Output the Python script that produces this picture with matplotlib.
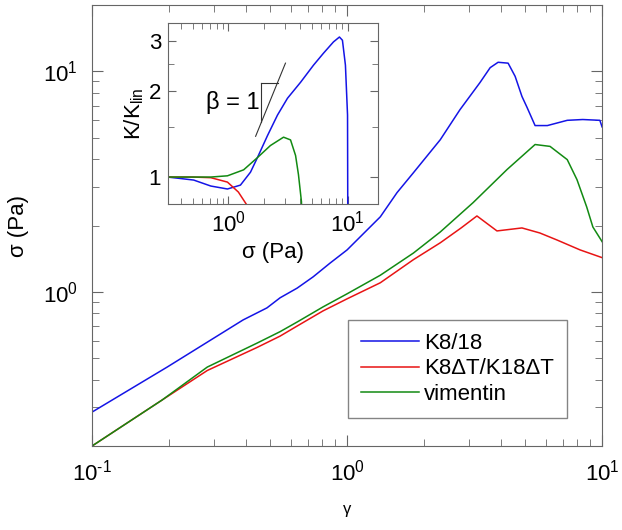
import matplotlib
matplotlib.use('Agg')
import matplotlib.pyplot as plt
import matplotlib.ticker as mticker
import numpy as np

plt.rcParams['font.family'] = ['Liberation Sans', 'DejaVu Sans']
plt.rcParams['mathtext.fontset'] = 'custom'
plt.rcParams['mathtext.rm'] = 'Liberation Sans'
plt.rcParams['mathtext.it'] = 'Liberation Sans:italic'

# main panel: stress vs strain
g_blue = [0.1, 0.197, 0.391, 0.485, 0.546, 0.637, 0.736, 0.857, 1.0, 1.35, 1.57, 1.82, 2.32, 2.77, 3.32,
          3.64, 3.91, 4.28, 4.56, 4.85, 5.08, 5.46, 6.1, 7.3, 8.4, 9.8, 10.0]
s_blue = [0.285, 0.456, 0.746, 0.846, 0.94, 1.04, 1.17, 1.35, 1.55, 2.19, 2.82, 3.47, 4.9, 6.7, 8.9,
          10.4, 11.0, 10.9, 9.5, 7.7, 6.86, 5.68, 5.68, 6.0, 6.05, 6.0, 5.6]

g_red = [0.1, 0.188, 0.283, 0.444, 0.546, 0.637, 0.805, 1.0, 1.35, 1.82, 2.32, 2.8, 3.23, 3.87, 4.85,
         5.7, 6.65, 8.2, 10.0]
s_red = [0.2, 0.323, 0.44, 0.56, 0.63, 0.7, 0.82, 0.93, 1.1, 1.4, 1.67, 1.95, 2.21, 1.89, 1.95,
         1.85, 1.72, 1.55, 1.43]

g_green = [0.1, 0.188, 0.283, 0.444, 0.546, 0.637, 0.805, 1.0, 1.35, 1.82, 2.32, 3.12, 4.24, 5.46, 6.25,
           7.3, 7.97, 8.7, 9.2, 10.0]
s_green = [0.2, 0.323, 0.456, 0.586, 0.66, 0.73, 0.855, 0.98, 1.19, 1.5, 1.87, 2.54, 3.59, 4.66, 4.57,
           3.98, 3.23, 2.43, 1.97, 1.69]

# inset: K/Klin vs stress
i_blue_x = [0.31, 0.51, 0.71, 0.98, 1.26, 1.53, 1.75, 2.13, 2.58, 3.13, 4.03, 5.18, 6.28, 7.62, 8.55,
            9.06, 9.6, 10.0, 10.05]
i_blue_y = [1.0, 0.976, 0.93, 0.908, 0.937, 1.04, 1.17, 1.40, 1.65, 1.89, 2.15, 2.47, 2.72, 2.98, 3.10,
            3.02, 2.47, 1.65, 0.7]
i_red_x = [0.31, 0.5, 0.71, 0.98, 1.21, 1.42, 1.5]
i_red_y = [1.0, 1.0, 0.995, 0.96, 0.886, 0.8, 0.76]
i_green_x = [0.31, 0.5, 0.71, 0.98, 1.34, 1.75, 2.25, 2.9, 3.32, 3.66, 3.87, 4.1, 4.15]
i_green_y = [1.0, 1.0, 1.0, 1.01, 1.06, 1.17, 1.29, 1.38, 1.35, 1.19, 1.02, 0.82, 0.7]

# slope triangle (beta = 1)
tri_x = [1.69, 3.01]
tri_y = [1.39, 2.51]
tri_corner = (1.89, 2.14)

blue, red, green = '#1414e6', '#e81414', '#128a12'
gray = '#666666'
fs = 16


def pow10(v, pos):
    e = int(round(np.log10(v)))
    s = str(e).replace('-', '\u2010')
    return '10$^{\\mathregular{' + s + '}}$'


fig = plt.figure(figsize=(6.22, 5.30), dpi=100)
ax = fig.add_axes([0.148, 0.1585, 0.820, 0.832])

ax.plot(g_blue, s_blue, color=blue, lw=1.1, label='K8/18')
ax.plot(g_red, s_red, color=red, lw=1.1, label='K8\u0394T/K18\u0394T')
ax.plot(g_green, s_green, color=green, lw=1.1, label='vimentin')
ax.set_xscale('log')
ax.set_yscale('log')
ax.set_xlim(0.1, 10)
ax.set_ylim(0.2, 20)
ax.xaxis.set_major_formatter(mticker.FuncFormatter(pow10))
ax.yaxis.set_major_formatter(mticker.FuncFormatter(pow10))
ax.xaxis.set_minor_formatter(mticker.NullFormatter())
ax.yaxis.set_minor_formatter(mticker.NullFormatter())
ax.tick_params(which='both', direction='in', top=True, right=True, colors=gray, labelcolor='black', labelsize=fs)
ax.tick_params(which='major', length=8, pad=10)
ax.tick_params(which='minor', length=5)
for sp in ax.spines.values():
    sp.set_color(gray)
ax.set_xlabel('\u03b3', fontsize=12, labelpad=12)
ax.set_ylabel('\u03c3 (Pa)', fontsize=fs, labelpad=10)

leg = ax.legend(loc='lower right', bbox_to_anchor=(0.931, 0.063), fontsize=fs, frameon=True, fancybox=False,
                handlelength=2.6, handletextpad=0.2, borderpad=0.6, labelspacing=0.2, borderaxespad=0)
leg.get_frame().set_edgecolor(gray)
leg.get_frame().set_linewidth(1.0)

ins = fig.add_axes([0.270, 0.615, 0.3376, 0.3415])
ins.plot(i_blue_x, i_blue_y, color=blue, lw=1.1)
ins.plot(i_red_x, i_red_y, color=red, lw=1.1)
ins.plot(i_green_x, i_green_y, color=green, lw=1.1)
ins.plot(tri_x, tri_y, color='#333333', lw=0.8)
ins.plot([tri_corner[0], tri_corner[0]], [tri_y[0] * tri_corner[0] / tri_x[0], tri_corner[1]], color='#333333', lw=0.8)
ins.plot([tri_corner[0], tri_x[0] * tri_corner[1] / tri_y[0]], [tri_corner[1], tri_corner[1]], color='#333333', lw=0.8)
ins.text(1.82, 1.82, '\u03b2 = 1', fontsize=17, ha='right', va='center')
ins.set_xscale('log')
ins.set_yscale('log')
ins.set_xlim(0.31, 18)
ins.set_ylim(0.804, 3.47)
ins.xaxis.set_major_formatter(mticker.FuncFormatter(pow10))
ins.yaxis.set_major_locator(mticker.FixedLocator([1, 2, 3]))
ins.yaxis.set_major_formatter(mticker.FixedFormatter(['1', '2', '3']))
ins.yaxis.set_minor_locator(mticker.FixedLocator([1.5, 2.5]))
ins.yaxis.set_minor_formatter(mticker.NullFormatter())
ins.xaxis.set_minor_formatter(mticker.NullFormatter())
ins.tick_params(which='both', direction='in', top=True, right=True, colors=gray, labelcolor='black', labelsize=fs)
ins.tick_params(which='major', length=6, pad=5)
ins.tick_params(which='minor', length=4)
for sp in ins.spines.values():
    sp.set_color(gray)
ins.set_xlabel('\u03c3 (Pa)', fontsize=fs, labelpad=4)
ins.set_ylabel('K/K$_{\\rm lin}$', fontsize=fs, labelpad=2)

fig.savefig('out.png', dpi=100)
